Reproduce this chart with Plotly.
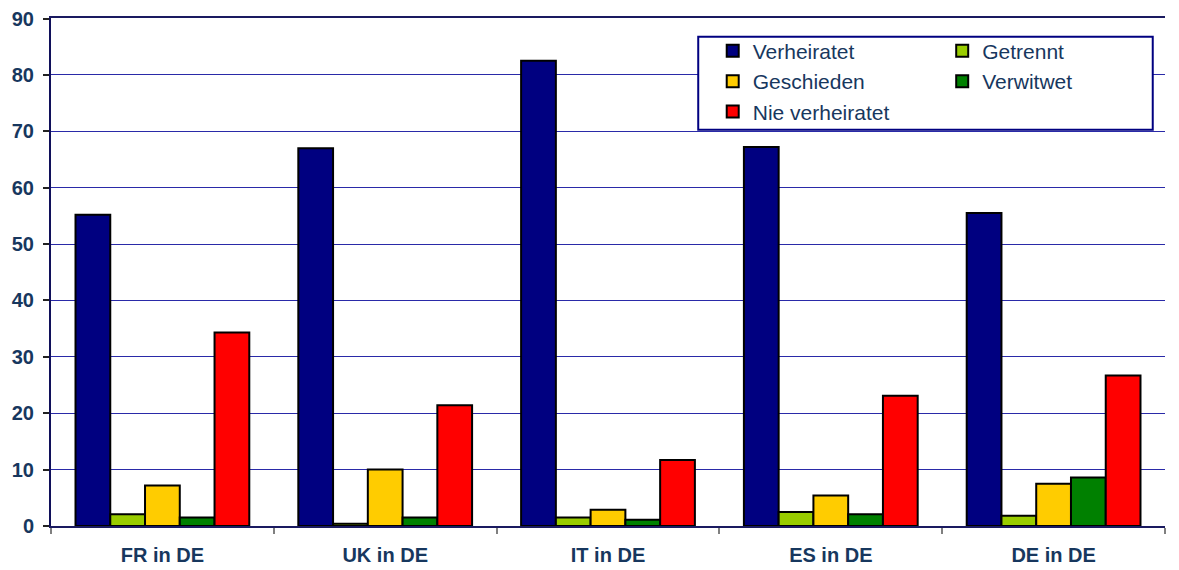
import plotly.graph_objects as go

categories = ["FR in DE", "UK in DE", "IT in DE", "ES in DE", "DE in DE"]
verheiratet = [55.2, 67.0, 82.5, 67.2, 55.5]
getrennt = [2.1, 0.4, 1.5, 2.5, 1.8]
geschieden = [7.2, 10.0, 2.9, 5.4, 7.5]
verwitwet = [1.5, 1.5, 1.1, 2.1, 8.6]
nie_verheiratet = [34.3, 21.4, 11.7, 23.1, 26.7]
y_ticks = list(range(0, 91, 10))

series = [
    ("Verheiratet", verheiratet, "#000080", "legend"),
    ("Getrennt", getrennt, "#99CC00", "legend2"),
    ("Geschieden", geschieden, "#FFCC00", "legend"),
    ("Verwitwet", verwitwet, "#008000", "legend2"),
    ("Nie verheiratet", nie_verheiratet, "#FF0000", "legend"),
]

TEXT = "#17375E"
FONT = "Liberation Sans, Arial, sans-serif"

fig = go.Figure()
for name, vals, col, lg in series:
    fig.add_trace(go.Bar(
        x=categories, y=vals, name=name, legend=lg,
        marker=dict(color=col, line=dict(color="black", width=2)),
    ))

legend_common = dict(yanchor="top", y=0.975, xanchor="left",
                     bgcolor="rgba(0,0,0,0)", borderwidth=0,
                     font=dict(family=FONT, size=21, color=TEXT),
                     tracegroupgap=0, traceorder="normal")

fig.update_layout(
    width=1171, height=562,
    margin=dict(l=43, r=14, t=10, b=44, autoexpand=False),
    paper_bgcolor="white", plot_bgcolor="white",
    barmode="group", bargap=0.22, bargroupgap=0,
    showlegend=True,
    legend=dict(x=0.594, **legend_common),
    legend2=dict(x=0.800, **legend_common),
    shapes=[dict(type="rect", xref="paper", yref="paper",
                 x0=0.581, x1=0.989, y0=0.780, y1=0.963,
                 line=dict(color="#000080", width=2), fillcolor="white",
                 layer="above")],
)

fig.update_xaxes(
    automargin=False,
    showline=True, linecolor="#1a1a60", linewidth=2, mirror=True,
    ticks="outside", tickson="boundaries", ticklen=6, tickcolor="#808080", tickwidth=2,
    ticklabelstandoff=10,
    tickfont=dict(family=FONT, size=20, color=TEXT, weight="bold"),
    showgrid=False, zeroline=False,
)
fig.update_yaxes(
    automargin=False, ticklabeloverflow="allow",
    range=[0, 90.1], tickvals=y_ticks,
    showline=True, linecolor="#10105a", linewidth=2,
    ticks="outside", ticklen=6, tickcolor="#222222", tickwidth=1.5,
    ticklabelstandoff=5,
    tickfont=dict(family=FONT, size=20, color=TEXT, weight="bold"),
    showgrid=True, gridcolor="#2a2aa8", gridwidth=1.3, zeroline=False,
)

fig.write_html("out.html")
